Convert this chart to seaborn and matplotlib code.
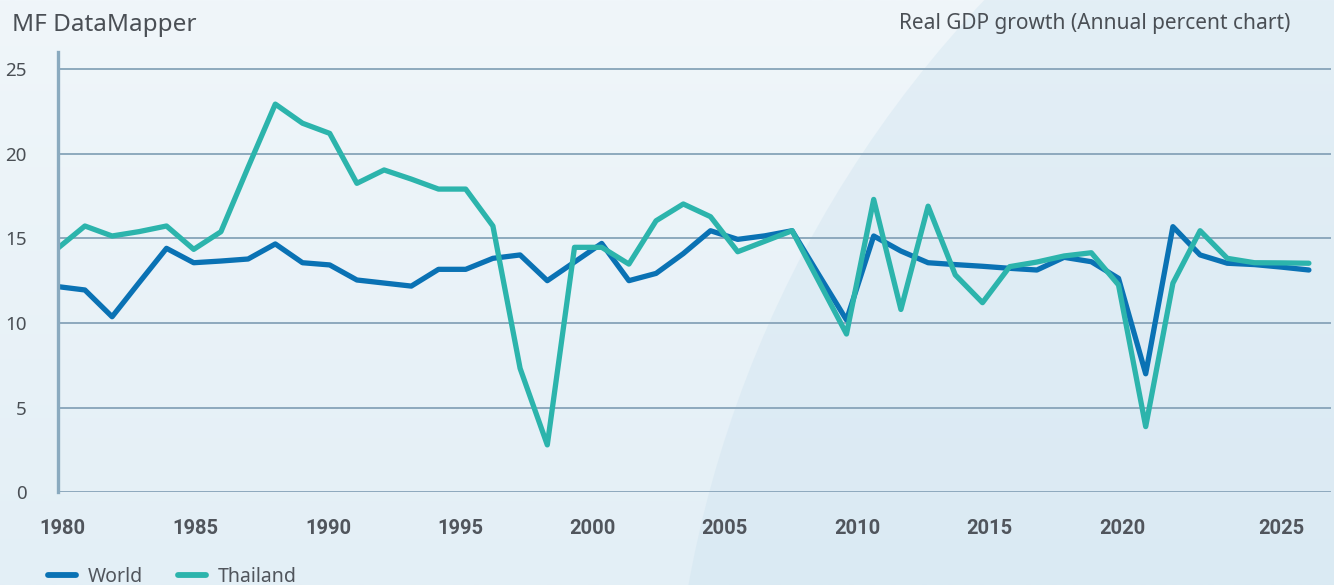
import numpy as np
import pandas as pd
import seaborn as sns
import matplotlib.pyplot as plt
from matplotlib.patches import Circle

# values
years = list(range(1980, 2027))
world = [12.15, 11.95, 10.37, 12.4, 14.41, 13.56, 13.66, 13.78, 14.67, 13.56,
         13.43, 12.54, 12.36, 12.18, 13.17, 13.17, 13.82, 14.02, 12.5, 13.6,
         14.7, 12.5, 12.93, 14.1, 15.45, 14.94, 15.15, 15.45, 12.8, 10.18,
         15.14, 14.25, 13.56, 13.45, 13.35, 13.23, 13.13, 13.88, 13.62, 12.64,
         7.0, 15.69, 14.02, 13.53, 13.45, 13.3, 13.13]
thailand = [14.41, 15.73, 15.14, 15.4, 15.73, 14.35, 15.39, 19.2, 22.93, 21.8,
            21.2, 18.25, 19.04, 18.5, 17.91, 17.91, 15.73, 7.32, 2.8, 14.47,
            14.47, 13.48, 16.04, 17.03, 16.28, 14.21, 14.83, 15.45, 12.4, 9.35,
            17.3, 10.8, 16.9, 12.84, 11.2, 13.33, 13.6, 13.96, 14.15, 12.25,
            3.88, 12.35, 15.45, 13.82, 13.56, 13.55, 13.53]
series_names = ["World", "Thailand"]
tick_years = ["1980", "1985", "1990", "1995", "2000", "2005", "2010", "2015", "2020", "2025"]
y_ticks = [0, 5, 10, 15, 20, 25]

title_left = "MF DataMapper"
title_right = "Real GDP growth (Annual percent chart)"

df = pd.DataFrame({
    "Year": years * 2,
    "Value": world + thailand,
    "Series": [series_names[0]] * len(years) + [series_names[1]] * len(years),
})

sns.set_style("white")
plt.rcParams["font.family"] = ["Noto Sans", "DejaVu Sans"]

W, H = 1334, 585
fig = plt.figure(figsize=(W / 100, H / 100), dpi=100)

# background with gradient and the big soft circle
bg = fig.add_axes([0, 0, 1, 1], zorder=-10)
grad = np.linspace(0, 1, 256).reshape(-1, 1)
c_top = np.array([0xF0, 0xF6, 0xFA]) / 255
c_bot = np.array([0xE3, 0xEF, 0xF6]) / 255
img = c_top + grad[..., None] * (c_bot - c_top)
bg.imshow(img, extent=[0, W, H, 0], aspect="auto")
bg.add_patch(Circle((1820, 790), 1150, facecolor="#C9E0EE", alpha=0.32, edgecolor="none"))
bg.set_xlim(0, W)
bg.set_ylim(H, 0)
bg.axis("off")

# plot area
x0, x1, ytop, ybot = 57.7, 1331, 52, 492.3
ax = fig.add_axes([x0 / W, 1 - ybot / H, (x1 - x0) / W, (ybot - ytop) / H])
ax.set_facecolor("none")

palette = {"World": "#0A72B4", "Thailand": "#2CB4AC"}
sns.lineplot(data=df, x="Year", y="Value", hue="Series", palette=palette,
             linewidth=3.8, ax=ax, legend=False, sort=False)

ax.set_xlim(1980, 1980 + (x1 - x0) / 27.2)
ax.set_ylim(0, (ybot - ytop) / 16.93)

grid_c = "#8DA9BD"
ax.set_yticks(y_ticks)
ax.set_yticklabels([str(v) for v in y_ticks])
ax.yaxis.grid(True, color=grid_c, linewidth=1.4)
ax.xaxis.grid(False)
ax.tick_params(axis="y", length=16.5, width=1.4, color=grid_c, pad=6,
               labelsize=13.5, labelcolor="#4A4F55")

# label centres in the reference sit slightly off the data years
label_px = [62, 195, 328, 460, 592, 724, 857, 989, 1122, 1281]
ax.set_xticks([1980 + (p - x0) / 27.2 for p in label_px])
ax.set_xticklabels(tick_years)
ax.tick_params(axis="x", length=0, pad=19, labelsize=14.5, labelcolor="#50555C")
for t in ax.get_xticklabels():
    t.set_fontfamily(["Roboto", "DejaVu Sans"])
    t.set_fontweight("bold")

for s in ["top", "right", "bottom"]:
    ax.spines[s].set_visible(False)
ax.spines["left"].set_color("#8AAABF")
ax.spines["left"].set_linewidth(2.4)
ax.set_xlabel("")
ax.set_ylabel("")

fig.text(12 / W, 1 - 25 / H, title_left, fontsize=17.5, fontweight="medium",
         color="#4A4F55", va="center", ha="left")
fig.text(1290 / W, 1 - 23 / H, title_right, fontsize=15, fontweight="medium",
         color="#4A4F55", va="center", ha="right")

handles = [plt.Line2D([], [], color=palette[n], linewidth=4.2) for n in series_names]
fig.legend(handles, series_names, loc="center left", bbox_to_anchor=(48 / W, 1 - 577 / H),
           frameon=False, fontsize=14, ncol=2, handlelength=1.45, handletextpad=0.6,
           columnspacing=1.8, borderpad=0, borderaxespad=0,
           labelcolor="#50555C")

fig.savefig("out.png", dpi=100)
